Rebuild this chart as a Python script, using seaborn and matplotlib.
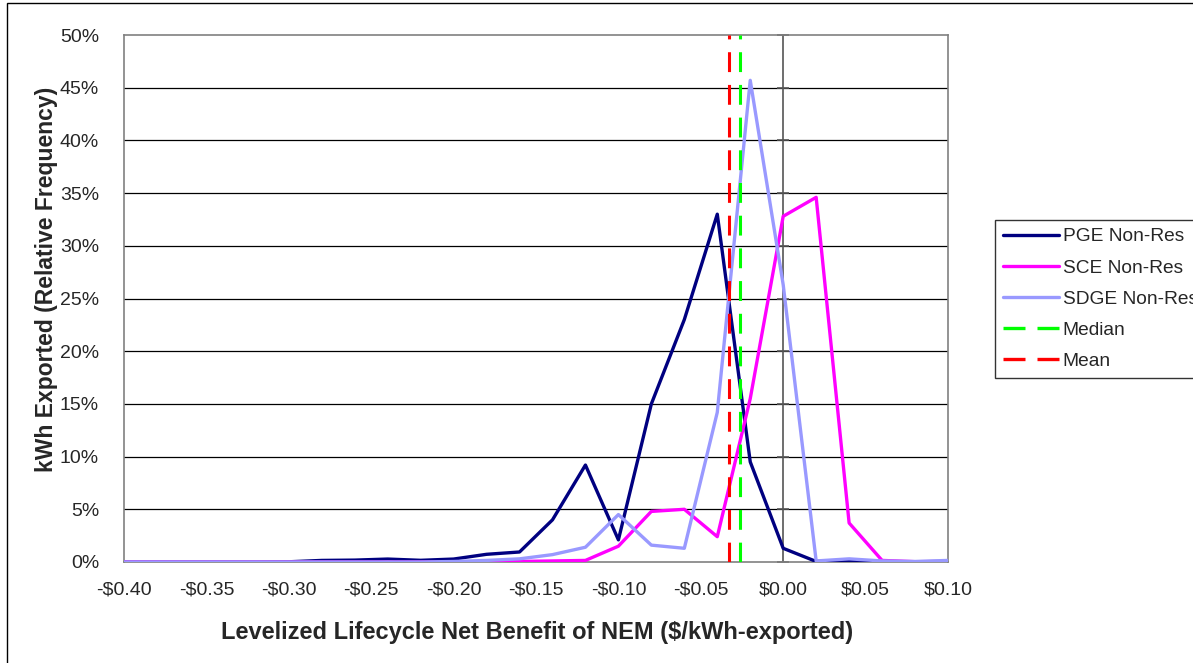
import matplotlib
matplotlib.use("Agg")
import matplotlib.pyplot as plt
import matplotlib.patches as mpatches
from matplotlib.lines import Line2D
import numpy as np
import pandas as pd
import seaborn as sns

# Levelized lifecycle net benefit bins ($/kWh-exported)
benefit = [-0.40, -0.38, -0.36, -0.34, -0.32, -0.30, -0.28, -0.26, -0.24, -0.22,
           -0.20, -0.18, -0.16, -0.14, -0.12, -0.10, -0.08, -0.06, -0.04, -0.02,
           0.00, 0.02, 0.04, 0.06, 0.08, 0.10]

# Share of kWh exported falling in each bin (%)
pge_nonres = [0.0, 0.0, 0.0, 0.0, 0.0, 0.02, 0.15, 0.18, 0.28, 0.16,
              0.28, 0.73, 0.95, 4.0, 9.2, 2.1, 15.0, 23.0, 33.0, 9.5,
              1.3, 0.05, 0.1, 0.05, 0.02, 0.05]
sce_nonres = [0.0, 0.0, 0.0, 0.0, 0.0, 0.0, 0.0, 0.0, 0.0, 0.0,
              0.0, 0.0, 0.05, 0.1, 0.15, 1.5, 4.8, 5.0, 2.4, 15.5,
              32.8, 34.6, 3.7, 0.15, 0.03, 0.05]
sdge_nonres = [0.0, 0.0, 0.0, 0.0, 0.0, 0.0, 0.0, 0.0, 0.0, 0.0,
               0.05, 0.15, 0.3, 0.7, 1.4, 4.5, 1.6, 1.3, 14.2, 45.7,
               26.3, 0.1, 0.3, 0.1, 0.05, 0.15]

series_names = ["PGE Non-Res", "SCE Non-Res", "SDGE Non-Res"]
series_colors = ["#000080", "#FF00FF", "#9999FF"]

median_benefit = -0.0265
mean_benefit = -0.033

x_ticks = [-0.40, -0.35, -0.30, -0.25, -0.20, -0.15, -0.10, -0.05, 0.00, 0.05, 0.10]
y_ticks = [0, 5, 10, 15, 20, 25, 30, 35, 40, 45, 50]

df = pd.DataFrame({
    "benefit": benefit * 3,
    "share": pge_nonres + sce_nonres + sdge_nonres,
    "series": sum([[n] * len(benefit) for n in series_names], []),
})

sns.set_style("white")
plt.rcParams["font.family"] = ["Liberation Sans", "DejaVu Sans"]

fig = plt.figure(figsize=(11.93, 6.63), dpi=100)
ax = fig.add_axes([124 / 1193, 101 / 663, 824 / 1193, 527 / 663])

# horizontal gridlines
for yv in y_ticks[1:-1]:
    ax.axhline(yv, color="black", lw=0.9, zorder=1)

# value axis crossing at zero
ax.axvline(0, color="#555555", lw=1.2, zorder=1)
ax.plot([0] * len(y_ticks), y_ticks, ls="none", marker="_", ms=9,
        mew=1.2, color="#555555", zorder=1, clip_on=False)

sns.lineplot(data=df, x="benefit", y="share", hue="series",
             palette=dict(zip(series_names, series_colors)),
             linewidth=2.4, ax=ax, legend=False, zorder=3)

ax.axvline(median_benefit, color="#00FF00", lw=2.2, dashes=(6.5, 4.2), zorder=4)
ax.axvline(mean_benefit, color="#FF0000", lw=2.2, dashes=(6.5, 4.2), zorder=4)

ax.set_xlim(-0.40, 0.10)
ax.set_ylim(0, 50)
ax.set_xticks(x_ticks)
ax.set_xticklabels([("-$%.2f" % -v) if v < 0 else ("$%.2f" % v) for v in x_ticks],
                   fontsize=14)
ax.set_yticks(y_ticks)
ax.set_yticklabels(["%d%%" % v for v in y_ticks], fontsize=14)
ax.tick_params(axis="y", direction="out", length=6, width=1, color="#808080", pad=12)
ax.tick_params(axis="x", direction="out", length=6, width=1, color="#808080", pad=8)
for sp in ax.spines.values():
    sp.set_color("#808080")
    sp.set_linewidth(1.2)

ax.set_xlabel("Levelized Lifecycle Net Benefit of NEM ($/kWh-exported)",
              fontsize=17, fontweight="bold")
ax.set_ylabel("kWh Exported (Relative Frequency)", fontsize=16.5, fontweight="bold")
ax.xaxis.set_label_coords(0.501, -0.112)
ax.yaxis.set_label_coords(-0.080, 0.537)

handles = [Line2D([], [], color=c, lw=2.4) for c in series_colors]
handles += [Line2D([], [], color="#00FF00", lw=2.4, dashes=(6.6, 3.6)),
            Line2D([], [], color="#FF0000", lw=2.4, dashes=(6.6, 3.6))]
labels = series_names + ["Median", "Mean"]
leg = fig.legend(handles, labels, loc="upper left",
                 bbox_to_anchor=(995 / 1193, (663 - 220) / 663),
                 fontsize=13.75, frameon=True, fancybox=False, shadow=False,
                 handlelength=2.93, handletextpad=0.2, labelspacing=0.72,
                 borderpad=0.42, borderaxespad=0)
leg.get_frame().set_edgecolor("black")
leg.get_frame().set_linewidth(1.0)

# outer chart border
fig.patches.append(mpatches.Rectangle((7 / 1193, -0.01), 1.0, 660 / 663 + 0.01,
                                      transform=fig.transFigure, fill=False,
                                      edgecolor="black", lw=1.0))

fig.savefig("out.png", dpi=100)
